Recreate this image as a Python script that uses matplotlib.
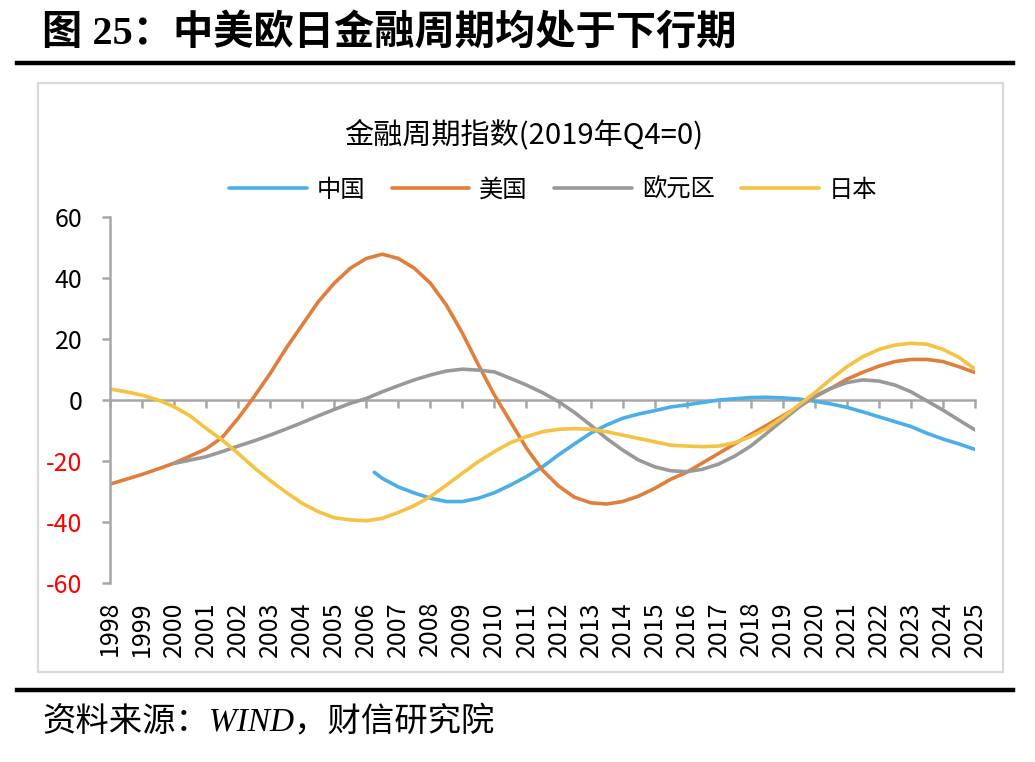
import numpy as np
import matplotlib
matplotlib.use("Agg")
import matplotlib.pyplot as plt
from matplotlib.lines import Line2D
from matplotlib.patches import Rectangle

plt.rcParams['font.family'] = ['Noto Sans CJK SC', 'DejaVu Sans']

# half-year grid
periods = [1998.0, 1998.5, 1999.0, 1999.5, 2000.0, 2000.5, 2001.0, 2001.5, 2002.0, 2002.5,
           2003.0, 2003.5, 2004.0, 2004.5, 2005.0, 2005.5, 2006.0, 2006.5, 2007.0, 2007.5,
           2008.0, 2008.5, 2009.0, 2009.5, 2010.0, 2010.5, 2011.0, 2011.5, 2012.0, 2012.5,
           2013.0, 2013.5, 2014.0, 2014.5, 2015.0, 2015.5, 2016.0, 2016.5, 2017.0, 2017.5,
           2018.0, 2018.5, 2019.0, 2019.5, 2020.0, 2020.5, 2021.0, 2021.5, 2022.0, 2022.5,
           2023.0, 2023.5, 2024.0, 2024.5, 2025.0]

usa = [-27.6, -26.0, -24.4, -22.6, -20.7, -18.4, -16.0, -12.3, -6.0, 1.1,
       8.7, 17.0, 24.6, 32.2, 38.3, 43.2, 46.4, 47.8, 46.4, 43.2,
       38.3, 31.1, 21.9, 11.5, 1.6, -7.1, -15.8, -23.0, -28.2, -31.9,
       -33.7, -34.1, -33.3, -31.5, -29.0, -26.0, -23.7, -20.6, -17.5, -14.4,
       -11.3, -8.3, -5.2, -2.1, 1.0, 3.8, 6.8, 9.1, 11.1, 12.6,
       13.3, 13.3, 12.6, 10.9, 9.0]

japan = [3.6, 2.7, 1.6, 0.0, -2.2, -5.2, -9.3, -13.1, -17.5, -22.2,
         -26.4, -30.3, -33.9, -36.6, -38.6, -39.3, -39.6, -38.8, -36.9, -34.6,
         -31.7, -27.9, -24.0, -20.2, -16.9, -14.0, -12.0, -10.4, -9.6, -9.4,
         -9.6, -10.4, -11.5, -12.6, -13.7, -14.8, -15.1, -15.3, -15.1, -14.0,
         -12.0, -9.3, -5.7, -1.6, 2.4, 6.8, 10.9, 14.2, 16.6, 18.0,
         18.6, 18.3, 16.6, 14.0, 10.1]

euro = [np.nan, np.nan, np.nan, np.nan, -20.8, -19.7, -18.6, -16.9, -15.1, -13.4,
        -11.5, -9.5, -7.4, -5.2, -3.1, -1.1, 0.5, 2.7, 4.7, 6.6,
        8.2, 9.5, 10.1, 9.8, 9.2, 7.1, 4.9, 2.4, -0.5, -4.1,
        -8.2, -12.6, -16.4, -19.7, -21.9, -23.2, -23.5, -22.7, -21.0, -18.4,
        -15.1, -10.9, -6.6, -2.4, 1.3, 3.8, 5.7, 6.6, 6.2, 4.9,
        2.7, -0.3, -3.3, -6.6, -9.8]

china_periods = [2006.25] + periods[17:]
china = [-23.7, -25.7, -28.5, -30.5, -32.2, -33.3, -33.3, -32.2, -30.4, -27.9,
         -25.1, -21.9, -18.0, -14.4, -10.9, -8.2, -6.0, -4.6, -3.5, -2.3,
         -1.6, -0.8, 0.0, 0.4, 0.8, 0.9, 0.7, 0.3, -0.4, -1.3,
         -2.4, -3.9, -5.5, -7.1, -8.7, -10.9, -12.8, -14.4, -16.2]

years = list(range(1998, 2026))
year_labels = [str(y) for y in years]
yticks = [60, 40, 20, 0, -20, -40, -60]

C_CHINA = '#4BAEE8'
C_USA = '#E07E3C'
C_EURO = '#999999'
C_JAPAN = '#F5C242'
AX_COL = '#A6A6A6'

W, H = 1035, 762
fig = plt.figure(figsize=(W / 100, H / 100), dpi=100)

# page title and rules
fig.text(42 / W, 1 - 33 / H, '图 25：中美欧日金融周期均处于下行期', fontsize=29,
         fontweight='bold', family=['Liberation Serif', 'Noto Sans CJK SC'],
         ha='left', va='center')
fig.add_artist(Line2D([17 / W, 1013 / W], [1 - 63 / H, 1 - 63 / H], color='black', lw=3.2))
fig.add_artist(Line2D([17 / W, 1013 / W], [1 - 690 / H, 1 - 690 / H], color='black', lw=3.2))
fig.text(42 / W, 1 - 722 / H, '资料来源：WIND，财信研究院', fontsize=24, style='italic',
         family=['Liberation Serif', 'Noto Sans CJK SC'], ha='left', va='center')

# chart frame
fig.add_artist(Rectangle((38 / W, 1 - 672 / H), 965 / W, 589 / H, transform=fig.transFigure,
                         fill=False, edgecolor='#D9D9D9', lw=1.6))

ax = fig.add_axes([110 / W, 1 - 583 / H, 865 / W, 366 / H])
ax.plot(china_periods, china, color=C_CHINA, lw=2.6, label='中国', solid_capstyle='round')
ax.plot(periods, usa, color=C_USA, lw=2.6, label='美国', solid_capstyle='round')
ax.plot(periods, euro, color=C_EURO, lw=2.6, label='欧元区', solid_capstyle='round')
ax.plot(periods, japan, color=C_JAPAN, lw=2.6, label='日本', solid_capstyle='round')

ax.set_xlim(1998, 2025)
ax.set_ylim(-60, 60)
for s in ['top', 'right']:
    ax.spines[s].set_visible(False)
ax.spines['left'].set_color(AX_COL)
ax.spines['left'].set_linewidth(1.8)
ax.spines['bottom'].set_position(('data', 0))
ax.spines['bottom'].set_color(AX_COL)
ax.spines['bottom'].set_linewidth(1.8)
ax.spines['bottom'].set_zorder(0)

ax.set_xticks(years)
ax.tick_params(axis='x', direction='out', length=6, width=1.8, color=AX_COL, labelbottom=False)
ax.set_yticks(yticks)
ax.set_yticklabels([str(v) for v in yticks])
ax.tick_params(axis='y', direction='out', length=6, width=1.8, color=AX_COL, labelsize=18, pad=14)
for lab, v in zip(ax.get_yticklabels(), yticks):
    lab.set_color('#FF0000' if v < 0 else 'black')

sec = ax.secondary_xaxis('bottom')
sec.spines['bottom'].set_visible(False)
sec.set_xticks(years)
sec.set_xticklabels(year_labels, rotation=90, fontsize=18)
sec.tick_params(axis='x', length=0, pad=13)

fig.text(524 / W, 1 - 135 / H, '金融周期指数(2019年Q4=0)', fontsize=21, ha='center', va='center')
fig.legend(loc='center', bbox_to_anchor=(553 / W, 1 - 190 / H), ncol=4, frameon=False,
           fontsize=17.5, handlelength=3.2, handletextpad=0.4, columnspacing=1.1)

fig.savefig('out.png', dpi=100)
